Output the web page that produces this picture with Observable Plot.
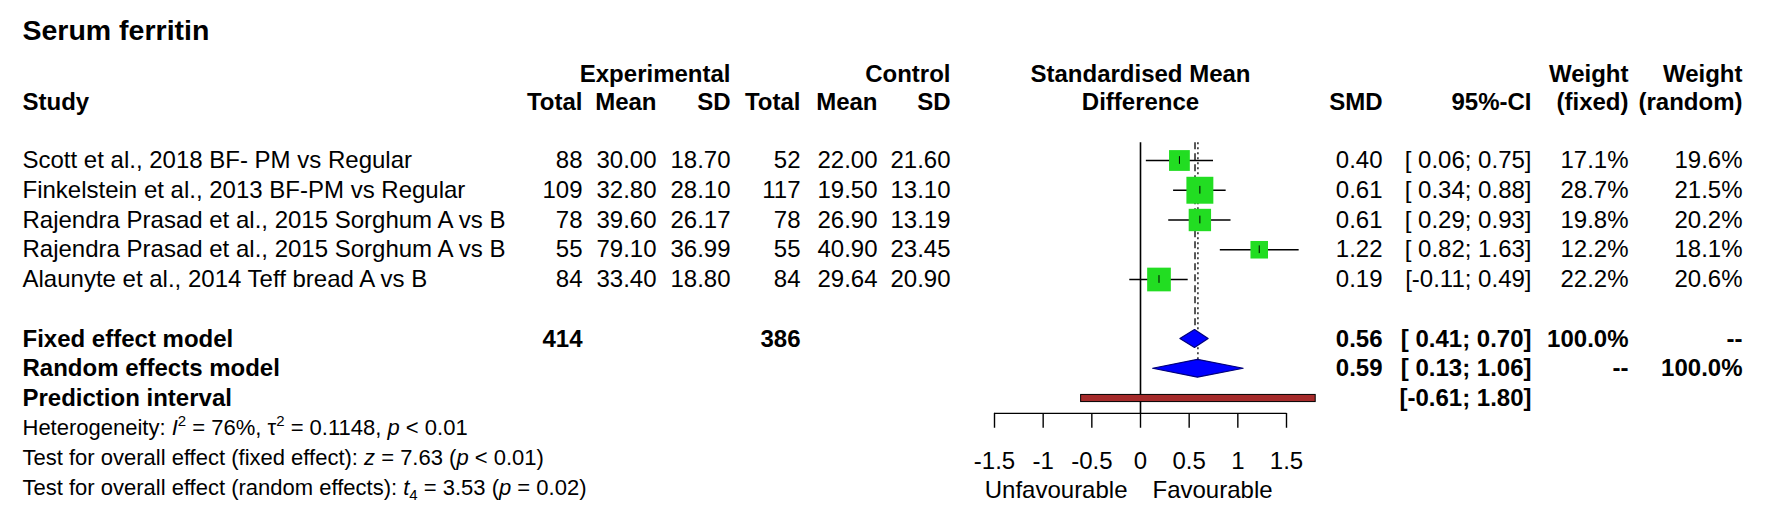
<!DOCTYPE html>
<html><head><meta charset="utf-8">
<script src="https://cdn.jsdelivr.net/npm/d3@7"></script>
<script src="https://cdn.jsdelivr.net/npm/@observablehq/plot@0.6"></script>
<style>body{margin:0;background:#fff} svg{display:block} svg text{white-space:pre}</style>
</head><body><div id="chart"></div>
<script>
// ---------- data ----------
const title = "Serum ferritin";
const studies = [
  "Scott et al., 2018 BF- PM vs Regular",
  "Finkelstein et al., 2013 BF-PM vs Regular",
  "Rajendra Prasad et al., 2015 Sorghum A vs B",
  "Rajendra Prasad et al., 2015 Sorghum A vs B",
  "Alaunyte et al., 2014 Teff bread A vs B"
];
const expTotal = [88, 109, 78, 55, 84];
const expMean = [30.00, 32.80, 39.60, 79.10, 33.40];
const expSD = [18.70, 28.10, 26.17, 36.99, 18.80];
const ctrlTotal = [52, 117, 78, 55, 84];
const ctrlMean = [22.00, 19.50, 26.90, 40.90, 29.64];
const ctrlSD = [21.60, 13.10, 13.19, 23.45, 20.90];
const smd = [0.40, 0.61, 0.61, 1.22, 0.19];
const ciLower = [0.06, 0.34, 0.29, 0.82, -0.11];
const ciUpper = [0.75, 0.88, 0.93, 1.63, 0.49];
const weightFixed = [17.1, 28.7, 19.8, 12.2, 22.2];
const weightRandom = [19.6, 21.5, 20.2, 18.1, 20.6];

const models = ["Fixed effect model", "Random effects model"];
const modelExpTotal = [414, null];
const modelCtrlTotal = [386, null];
const modelSMD = [0.56, 0.59];
const modelLower = [0.41, 0.13];
const modelUpper = [0.70, 1.06];
const modelWeightFixed = ["100.0%", "--"];
const modelWeightRandom = ["--", "100.0%"];

const predLabel = "Prediction interval";
const predLower = -0.61;
const predUpper = 1.80;

const hetI2 = "76%";
const hetTau2 = "0.1148";
const hetP = "< 0.01";
const fixedZ = "7.63";
const fixedP = "< 0.01";
const randomDf = "4";
const randomT = "3.53";
const randomP = "= 0.02";

const xTicks = [-1.5, -1, -0.5, 0, 0.5, 1, 1.5];
const leftLabel = "Unfavourable";
const rightLabel = "Favourable";

// ---------- layout (rows in line units, columns in px) ----------
const FONT = "'Liberation Sans', Arial, Helvetica, sans-serif";
const L = {title: -4.35, head1: -2.91, head2: -1.94, fixed: 6, random: 7, pred: 8,
  axis: 8.5, tickEnd: 9.0, tickLabel: 10.1, sideLabel: 11.1, het: 9, test1: 10, test2: 11, nullTop: -0.6};
const C = {study: 22, eT: 582, eM: 656, eS: 730, cT: 800, cM: 877, cS: 950, smdHead: 1140,
  smd: 1382, ci: 1531, wF: 1628, wR: 1742, leftLab: 1127, rightLab: 1152};

const f2 = d => d.toFixed(2);
const fl = d => (d < 0 ? "" : " ") + d.toFixed(2);
const ciText = (l, u) => `[${fl(l)}; ${u.toFixed(2)}]`;

const rows = studies.map((name, i) => ({
  name, row: i, eT: String(expTotal[i]), eM: f2(expMean[i]), eS: f2(expSD[i]),
  cT: String(ctrlTotal[i]), cM: f2(ctrlMean[i]), cS: f2(ctrlSD[i]),
  est: smd[i], lo: ciLower[i], hi: ciUpper[i], wF: weightFixed[i], wR: weightRandom[i],
  smdT: f2(smd[i]), ciT: ciText(ciLower[i], ciUpper[i]),
  wFT: weightFixed[i].toFixed(1) + "%", wRT: weightRandom[i].toFixed(1) + "%"
}));
const mrows = models.map((name, i) => ({
  name, row: i === 0 ? L.fixed : L.random,
  eT: modelExpTotal[i] == null ? "" : String(modelExpTotal[i]),
  cT: modelCtrlTotal[i] == null ? "" : String(modelCtrlTotal[i]),
  est: modelSMD[i], lo: modelLower[i], hi: modelUpper[i],
  smdT: f2(modelSMD[i]), ciT: ciText(modelLower[i], modelUpper[i]),
  wFT: modelWeightFixed[i], wRT: modelWeightRandom[i]
}));
const predRow = [{name: predLabel, row: L.pred, lo: predLower, hi: predUpper, ciT: ciText(predLower, predUpper)}];

const diamondH = 0.3;
const diamonds = mrows.flatMap((m, i) => [
  {id: i, y: m.row - diamondH, x1: m.est, x2: m.est},
  {id: i, y: m.row, x1: m.lo, x2: m.hi},
  {id: i, y: m.row + diamondH, x1: m.est, x2: m.est}
]);

const hetStr = `Heterogeneity: I2 = ${hetI2}, τ2 = ${hetTau2}, p ${hetP}`;
const t1Str = `Test for overall effect (fixed effect): z = ${fixedZ} (p ${fixedP})`;
const t2Str = `Test for overall effect (random effects): t${randomDf} = ${randomT} (p ${randomP})`;
const foot = [{row: L.het, t: hetStr}, {row: L.test1, t: t1Str}, {row: L.test2, t: t2Str}];

function col(data, text, dx, anchor, extra = {}) {
  return Plot.text(data, {y: "row", text, frameAnchor: "left", dx, textAnchor: anchor, fontSize: 24, fill: "black", ...extra});
}
const B = {fontWeight: "bold"};
const hdr = (t, row, dx, anchor) => col([{row, t}], "t", dx, anchor, B);

const chart = Plot.plot({
  width: 1772, height: 519,
  marginLeft: 0, marginRight: 0, marginTop: 0, marginBottom: 0,
  style: {fontFamily: FONT, background: "white", color: "black", overflow: "visible"},
  x: {type: "linear", domain: [-1.5, 1.5], range: [994, 1286], axis: null},
  y: {type: "linear", domain: [0, 11], range: [160, 487.25], axis: null},
  r: {type: "sqrt", domain: [0, d3.max(weightFixed)], range: [0, 15.2]},
  marks: [
    // title & headers
    col([{row: L.title, t: title}], "t", C.study, "start", {fontWeight: "bold", fontSize: 28.5}),
    hdr("Experimental", L.head1, C.eS, "end"),
    hdr("Control", L.head1, C.cS, "end"),
    hdr("Standardised Mean", L.head1, C.smdHead, "middle"),
    hdr("Difference", L.head2, C.smdHead, "middle"),
    hdr("Weight", L.head1, C.wF, "end"),
    hdr("Weight", L.head1, C.wR, "end"),
    hdr("Study", L.head2, C.study, "start"),
    hdr("Total", L.head2, C.eT, "end"),
    hdr("Mean", L.head2, C.eM, "end"),
    hdr("SD", L.head2, C.eS, "end"),
    hdr("Total", L.head2, C.cT, "end"),
    hdr("Mean", L.head2, C.cM, "end"),
    hdr("SD", L.head2, C.cS, "end"),
    hdr("SMD", L.head2, C.smd, "end"),
    hdr("95%-CI", L.head2, C.ci, "end"),
    hdr("(fixed)", L.head2, C.wF, "end"),
    hdr("(random)", L.head2, C.wR, "end"),
    // study rows
    col(rows, "name", C.study, "start"),
    col(rows, "eT", C.eT, "end"),
    col(rows, "eM", C.eM, "end"),
    col(rows, "eS", C.eS, "end"),
    col(rows, "cT", C.cT, "end"),
    col(rows, "cM", C.cM, "end"),
    col(rows, "cS", C.cS, "end"),
    col(rows, "smdT", C.smd, "end"),
    col(rows, "ciT", C.ci, "end"),
    col(rows, "wFT", C.wF, "end"),
    col(rows, "wRT", C.wR, "end"),
    // model rows
    col(mrows, "name", C.study, "start", B),
    col(mrows, "eT", C.eT, "end", B),
    col(mrows, "cT", C.cT, "end", B),
    col(mrows, "smdT", C.smd, "end", B),
    col(mrows, "ciT", C.ci, "end", B),
    col(mrows, "wFT", C.wF, "end", B),
    col(mrows, "wRT", C.wR, "end", B),
    col(predRow, "name", C.study, "start", B),
    col(predRow, "ciT", C.ci, "end", B),
    // footnotes
    col(foot, "t", C.study, "start", {fontSize: 22}),
    // forest: reference lines
    Plot.ruleX([0], {y1: L.nullTop, y2: L.axis, stroke: "black", strokeWidth: 1.6}),
    Plot.ruleX([mrows[0]], {x: "est", y1: L.nullTop, y2: d => d.row - diamondH, stroke: "black", strokeWidth: 1.3, strokeDasharray: "7,4"}),
    Plot.ruleX([mrows[1]], {x: "est", y1: L.nullTop, y2: d => d.row - diamondH, stroke: "black", strokeWidth: 1.3, strokeDasharray: "2,3"}),
    // CIs, squares, centre ticks
    Plot.ruleY(rows, {y: "row", x1: "lo", x2: "hi", stroke: "black", strokeWidth: 1.4}),
    Plot.dot(rows, {x: "est", y: "row", r: "wF", symbol: "square", fill: "#22dd22", stroke: "none"}),
    Plot.ruleX(rows, {x: "est", y1: d => d.row - 0.13, y2: d => d.row + 0.13, stroke: "black", strokeWidth: 1}),
    // diamonds
    Plot.areaX(diamonds, {y: "y", x1: "x1", x2: "x2", z: "id", fill: "#0000ff", stroke: "#00007a", strokeWidth: 1.2}),
    // prediction interval
    Plot.rect(predRow, {x1: "lo", x2: "hi", y1: d => d.row - 0.12, y2: d => d.row + 0.12, fill: "#a52a2a", stroke: "black", strokeWidth: 1}),
    // axis
    Plot.ruleY([L.axis], {x1: d3.min(xTicks), x2: d3.max(xTicks), stroke: "black", strokeWidth: 1.4}),
    Plot.ruleX(xTicks, {x: d => d, y1: L.axis, y2: L.tickEnd, stroke: "black", strokeWidth: 1.4}),
    Plot.text(xTicks, {x: d => d, y: () => L.tickLabel, text: d => String(d), fontSize: 24, fill: "black"}),
    col([{row: L.sideLabel, t: leftLabel}], "t", C.leftLab, "end"),
    col([{row: L.sideLabel, t: rightLabel}], "t", C.rightLab, "start")
  ]
});

// rich text (italics, super/subscripts) for footnotes
const rich = new Map([
  [hetStr, [["Heterogeneity: "], ["I", "it"], ["2", "sup"], [` = ${hetI2}, τ`], ["2", "sup"], [` = ${hetTau2}, `], ["p", "it"], [` ${hetP}`]]],
  [t1Str, [["Test for overall effect (fixed effect): "], ["z", "it"], [` = ${fixedZ} (`], ["p", "it"], [` ${fixedP})`]]],
  [t2Str, [["Test for overall effect (random effects): "], ["t", "it"], [randomDf, "sub"], [` = ${randomT} (`], ["p", "it"], [` ${randomP})`]]]
]);
chart.querySelectorAll("text").forEach(t => {
  const segs = rich.get(t.textContent);
  if (!segs) return;
  t.textContent = "";
  let shift = 0;
  for (const [s, kind] of segs) {
    const ts = document.createElementNS("http://www.w3.org/2000/svg", "tspan");
    ts.textContent = s;
    let target = 0;
    if (kind === "it") ts.setAttribute("font-style", "italic");
    if (kind === "sup") { ts.setAttribute("font-size", "15"); target = -9; }
    if (kind === "sub") { ts.setAttribute("font-size", "15"); target = 5; }
    if (target - shift !== 0) ts.setAttribute("dy", target - shift);
    shift = target;
    t.appendChild(ts);
  }
});

document.getElementById("chart").appendChild(chart);
</script>
</body></html>
